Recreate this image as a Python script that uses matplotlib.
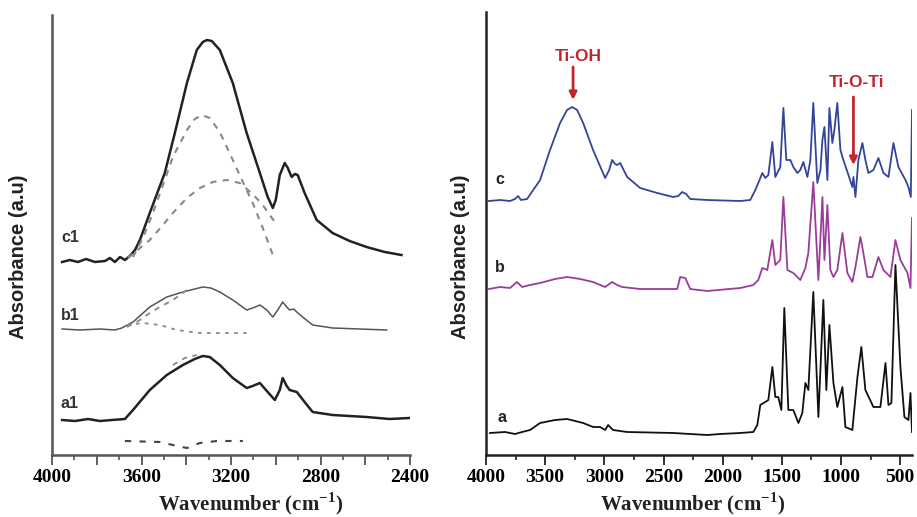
import matplotlib
matplotlib.use("Agg")
import matplotlib.pyplot as plt

plt.rcParams['mathtext.fontset'] = 'custom'
plt.rcParams['mathtext.rm'] = 'Liberation Serif:bold'
plt.rcParams['mathtext.bf'] = 'Liberation Serif:bold'

# ---------------- Left panel data (wavenumber, absorbance a.u. with offsets) ----------------
c1_wn = [3955, 3920, 3884, 3848, 3808, 3763, 3741, 3719, 3696, 3674, 3652, 3629, 3607, 3563, 3496,
         3451, 3397, 3353, 3326, 3308, 3286, 3250, 3192, 3130, 3071, 3036, 3013, 3000, 2982, 2960,
         2946, 2929, 2915, 2902, 2871, 2817, 2746, 2670, 2594, 2513, 2438]
c1_ab = [193, 195, 193, 196, 193, 194, 197, 193, 198, 195, 199, 205, 215, 242, 282,
         322, 372, 405, 413, 415, 414, 405, 372, 322, 282, 258, 247, 255, 280, 292,
         287, 278, 281, 280, 262, 235, 222, 214, 208, 203, 200]
c1_comp1_wn = [3638, 3594, 3549, 3504, 3460, 3397, 3362, 3330, 3295, 3250, 3192, 3147, 3103, 3058, 3013]
c1_comp1_ab = [198, 217, 242, 270, 298, 325, 336, 340, 337, 323, 295, 273, 252, 227, 200]
c1_comp2_wn = [3661, 3607, 3563, 3504, 3460, 3397, 3339, 3281, 3219, 3161, 3103, 3058, 3027, 3004]
c1_comp2_ab = [197, 207, 215, 230, 242, 257, 267, 273, 275, 272, 261, 250, 240, 233]

b1_wn = [3955, 3875, 3786, 3719, 3688, 3638, 3563, 3487, 3415, 3362, 3326, 3290, 3250, 3192, 3130,
         3103, 3071, 3040, 3013, 2991, 2969, 2951, 2938, 2920, 2906, 2880, 2835, 2746, 2625, 2504]
b1_ab = [126, 125, 126, 125, 127, 133, 148, 158, 163, 166, 168, 167, 163, 155, 145,
         147, 150, 145, 138, 145, 153, 148, 145, 146, 143, 138, 130, 127, 126, 125]
b1_comp1_wn = [3665, 3607, 3563, 3518, 3460, 3397]
b1_comp1_ab = [128, 135, 142, 148, 155, 165]
b1_comp2_wn = [3665, 3594, 3518, 3442, 3339, 3228, 3130]
b1_comp2_ab = [130, 132, 130, 125, 122, 122, 122]

a1_wn = [3955, 3897, 3839, 3786, 3732, 3674, 3638, 3563, 3487, 3415, 3362, 3326, 3295, 3250, 3192,
         3130, 3103, 3071, 3036, 3004, 2982, 2969, 2951, 2938, 2906, 2871, 2835, 2746, 2594, 2491, 2402]
a1_ab = [35, 34, 36, 34, 35, 36, 45, 65, 80, 90, 96, 99, 98, 90, 77,
         67, 69, 72, 63, 55, 65, 77, 69, 65, 63, 53, 43, 40, 38, 36, 37]
a1_comp_wn = [3460, 3406, 3353]
a1_comp_ab = [90, 97, 100]
diff_wn = [3674, 3518, 3460, 3397, 3339, 3263, 3147]
diff_ab = [14, 13, 10, 7, 12, 14, 14]

left_major = [4000, 3800, 3600, 3400, 3200, 3000, 2800, 2600, 2400]
left_labels = ['4000', '', '3600', '', '3200', '', '2800', '', '2400']
left_minor = [3900, 3700, 3500, 3300, 3100, 2900, 2700, 2500]

# ---------------- Right panel data ----------------
c_wn = [3975, 3882, 3797, 3755, 3729, 3704, 3653, 3543, 3459, 3374, 3315, 3272, 3230, 3179, 3095,
        2993, 2959, 2934, 2909, 2892, 2866, 2807, 2697, 2553, 2418, 2376, 2342, 2308, 2274, 2130,
        1851, 1767, 1724, 1699, 1665, 1640, 1614, 1580, 1555, 1513, 1487, 1462, 1428, 1403, 1369,
        1344, 1318, 1284, 1259, 1234, 1200, 1174, 1157, 1140, 1115, 1098, 1073, 1056, 1031, 1005,
        980, 937, 904, 895, 878, 853, 819, 794, 768, 726, 684, 641, 599, 557, 515,
        455, 430, 410, 400]
c_ab = [254, 255, 254, 256, 259, 255, 256, 275, 305, 332, 345, 348, 345, 332, 305,
        277, 285, 295, 291, 290, 292, 278, 267, 262, 258, 259, 263, 261, 256, 255,
        254, 255, 265, 272, 282, 277, 280, 313, 278, 288, 347, 295, 295, 288, 282,
        285, 293, 278, 295, 352, 272, 285, 315, 328, 275, 347, 312, 325, 352, 305,
        295, 280, 268, 278, 258, 295, 312, 295, 282, 285, 297, 282, 278, 312, 288,
        275, 268, 258, 345]

b_wn = [3975, 3882, 3797, 3738, 3695, 3628, 3543, 3416, 3315, 3205, 3095, 2993, 2934, 2892, 2849,
        2697, 2384, 2359, 2316, 2274, 2130, 1851, 1741, 1699, 1665, 1623, 1580, 1555, 1513, 1487,
        1453, 1403, 1344, 1301, 1276, 1234, 1191, 1157, 1140, 1115, 1090, 1064, 1031, 988, 946,
        904, 878, 836, 811, 777, 734, 684, 641, 582, 540, 498, 438, 413, 400]
b_ab = [166, 168, 167, 173, 168, 170, 172, 176, 178, 176, 173, 168, 173, 170, 168,
        166, 166, 178, 177, 166, 164, 167, 170, 175, 187, 185, 215, 190, 195, 258,
        185, 182, 175, 187, 202, 273, 175, 258, 195, 250, 185, 178, 185, 222, 182,
        173, 188, 218, 202, 178, 178, 198, 185, 178, 215, 195, 182, 167, 237]

a_wn = [3966, 3839, 3755, 3695, 3628, 3543, 3416, 3315, 3179, 3095, 3036, 2993, 2968, 2926, 2807,
        2418, 2130, 2020, 1851, 1741, 1707, 1682, 1640, 1614, 1580, 1555, 1530, 1504, 1479, 1445,
        1403, 1360, 1327, 1301, 1276, 1234, 1191, 1149, 1124, 1098, 1064, 1031, 988, 963, 904,
        861, 828, 794, 726, 667, 624, 599, 574, 540, 498, 464, 430, 413, 400]
a_ab = [22, 23, 21, 23, 25, 32, 35, 36, 32, 28, 28, 25, 30, 25, 23,
        22, 20, 21, 22, 23, 30, 50, 53, 55, 88, 58, 58, 45, 147, 45,
        45, 32, 42, 72, 65, 163, 38, 155, 65, 130, 72, 48, 68, 28, 25,
        78, 108, 65, 48, 48, 92, 50, 52, 190, 88, 38, 35, 62, 23]

right_major = [4000, 3500, 3000, 2500, 2000, 1500, 1000, 500]
right_labels = ['4000', '3500', '3000', '2500', '2000', '1500', '1000', '500']
right_minor = [3750, 3250, 2750, 2250, 1750, 1250, 750]

RED = '#c0262b'
BLUE = '#34449a'
PURPLE = '#9a3d98'

fig = plt.figure(figsize=(9.17, 5.17), dpi=100)
axL = fig.add_axes([52/917, 62/517, 358/917, 440/517])
axR = fig.add_axes([486/917, 62/517, 426/917, 443/517])

tick_font = dict(family='Liberation Serif', weight='bold', size=14)

# Left panel
axL.plot(c1_wn, c1_ab, color='#222222', lw=1.8)
axL.plot(c1_comp1_wn, c1_comp1_ab, color='#888888', lw=1.5, dashes=(3, 3))
axL.plot(c1_comp2_wn, c1_comp2_ab, color='#888888', lw=1.5, dashes=(3, 3))
axL.plot(b1_wn, b1_ab, color='#555555', lw=1.1)
axL.plot(b1_comp1_wn, b1_comp1_ab, color='#888888', lw=1.3, dashes=(3, 3))
axL.plot(b1_comp2_wn, b1_comp2_ab, color='#888888', lw=1.3, dashes=(2, 3))
axL.plot(a1_wn, a1_ab, color='#222222', lw=1.8)
axL.plot(a1_comp_wn, a1_comp_ab, color='#888888', lw=1.3, dashes=(3, 3))
axL.plot(diff_wn, diff_ab, color='#444444', lw=1.5, dashes=(3, 4))
axL.set_xlim(4000, 2400)
axL.set_ylim(0, 440)

axL.text(3920, 218, 'c1', ha='center', va='center', fontsize=11.5, fontweight='bold', color='#333333', family='Liberation Sans')
axL.text(3920, 140, 'b1', ha='center', va='center', fontsize=11.5, fontweight='bold', color='#333333', family='Liberation Sans')
axL.text(3920, 52, 'a1', ha='center', va='center', fontsize=11.5, fontweight='bold', color='#333333', family='Liberation Sans')

# Right panel
axR.plot(c_wn, c_ab, color=BLUE, lw=1.3)
axR.plot(b_wn, b_ab, color=PURPLE, lw=1.3)
axR.plot(a_wn, a_ab, color='#111111', lw=1.3)
axR.set_xlim(4000, 400)
axR.set_ylim(0, 443)

axR.text(3882, 276, 'c', ha='center', va='center', fontsize=11.5, fontweight='bold', color='#222222', family='Liberation Sans')
axR.text(3882, 187, 'b', ha='center', va='center', fontsize=11.5, fontweight='bold', color='#222222', family='Liberation Sans')
axR.text(3865, 38, 'a', ha='center', va='center', fontsize=11.5, fontweight='bold', color='#222222', family='Liberation Sans')

axR.text(3222, 399, 'Ti-OH', ha='center', va='center', fontsize=12.5, fontweight='bold', color=RED, family='Liberation Sans')
axR.annotate('', xy=(3264, 355), xytext=(3264, 388),
             arrowprops=dict(arrowstyle='-|>', color=RED, lw=2, mutation_scale=11, shrinkA=0, shrinkB=0))
axR.text(870, 373, 'Ti-O-Ti', ha='center', va='center', fontsize=12.5, fontweight='bold', color=RED, family='Liberation Sans')
axR.annotate('', xy=(895, 290), xytext=(895, 358),
             arrowprops=dict(arrowstyle='-|>', color=RED, lw=2, mutation_scale=11, shrinkA=0, shrinkB=0))

for ax, major, labels, minor, sc in [(axL, left_major, left_labels, left_minor, '#555555'),
                                     (axR, right_major, right_labels, right_minor, '#222222')]:
    for s in ['top', 'right']:
        ax.spines[s].set_visible(False)
    for s in ['left', 'bottom']:
        ax.spines[s].set_color(sc)
        ax.spines[s].set_linewidth(1.8)
    ax.set_yticks([])
    ax.set_xticks(major)
    ax.set_xticklabels(labels, fontdict=tick_font)
    ax.set_xticks(minor, minor=True)
    ax.tick_params(axis='x', which='major', length=7, width=1.3, color=sc, pad=3)
    ax.tick_params(axis='x', which='minor', length=3.5, width=1.2, color=sc)

ylab = dict(rotation=90, ha='center', va='center', fontsize=14.5, fontweight='bold',
            family='Liberation Sans', color='#222222')
fig.text(19/917, 1 - 257/517, 'Absorbance (a.u)', **ylab)
fig.text(460/917, 1 - 257/517, 'Absorbance (a.u)', **ylab)

xlab = dict(ha='center', va='center', fontsize=15, fontweight='bold', family='Liberation Serif', color='#222222')
fig.text(251/917, 1 - 504/517, r'Wavenumber (cm$^{-1}$)', **xlab)
fig.text(693/917, 1 - 504/517, r'Wavenumber (cm$^{-1}$)', **xlab)

fig.savefig('out.png', dpi=100)
